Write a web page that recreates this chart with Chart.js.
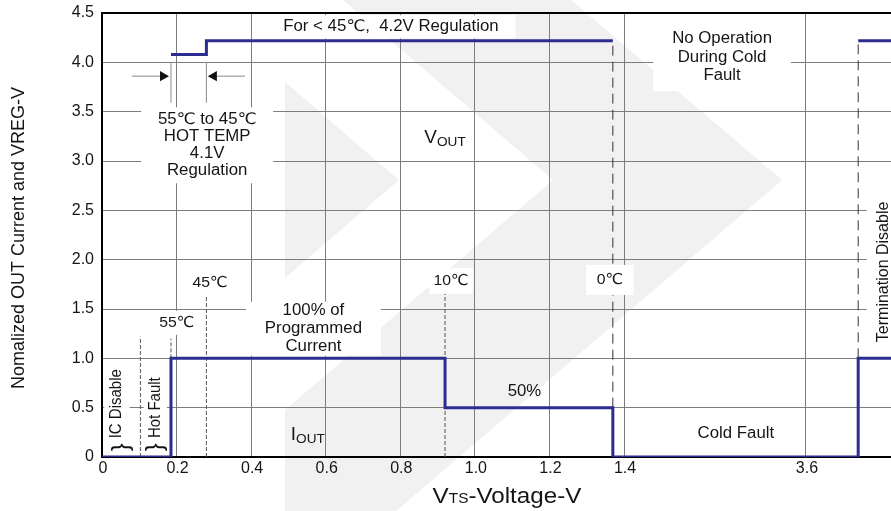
<!DOCTYPE html>
<html>
<head>
<meta charset="utf-8">
<script src="https://cdn.jsdelivr.net/npm/chart.js@4.4.1/dist/chart.umd.min.js"></script>
<style>
  html, body { margin: 0; padding: 0; background: #fff; }
  #wrap { width: 891px; height: 511px; }
</style>
</head>
<body>
<div id="wrap"><canvas id="chart" width="891" height="511"></canvas></div>
<script>
// ---- data ----
const yTickValues = [0, 0.5, 1.0, 1.5, 2.0, 2.5, 3.0, 3.5, 4.0, 4.5]
const yTickLabels = ['0', '0.5', '1.0', '1.5', '2.0', '2.5', '3.0', '3.5', '4.0', '4.5']
const xTickVolts = [0, 0.2, 0.4, 0.6, 0.8, 1.0, 1.2, 1.4, 3.6]
const xTickLabels = ['0', '0.2', '0.4', '0.6', '0.8', '1.0', '1.2', '1.4', '3.6']

// I_OUT step trace (corner points)
const ioutVolts = [0, 0.185, 0.185, 0.92, 0.92, 1.37, 1.37, 3.74, 3.74, 3.9]
const ioutLevel = [0, 0, 1.0, 1.0, 0.5, 0.5, 0, 0, 1.0, 1.0]

// V_OUT regulation trace (null = no operation during cold fault)
const voutVolts = [0.185, 0.28, 0.28, 1.37, 2.5, 3.74, 3.9]
const voutLevel = [4.08, 4.08, 4.22, 4.22, null, 4.22, 4.22]

// dashed threshold markers
const markerVolts = [0.103, 0.185, 0.28, 0.92, 1.37, 3.74]
const markerFrom = [0, 1.0, 0, 0, 0.5, 1.0]
const markerTo = [1.22, 1.2, 1.66, 1.66, 4.22, 4.22]
const markerLong = [false, false, false, false, true, true]

// "55C to 45C" width bracket
const bracketVolts = [0.185, 0.28]
const bracketFrom = 3.59
const bracketTo = 4.0
const arrowLevel = 3.86

// broken x axis: 1.4 .. 3.6 squeezed into a short gap
const BREAK_FROM = 1.4, BREAK_TO = 3.6, BREAK_WIDTH = 0.488, AXIS_MAX = 2.116
function toAxis(v) {
    if (v == null) return null
    if (v <= BREAK_FROM) return v
    if (v >= BREAK_TO) return v - BREAK_TO + BREAK_FROM + BREAK_WIDTH
    return BREAK_FROM + (v - BREAK_FROM) / (BREAK_TO - BREAK_FROM) * BREAK_WIDTH
}
const pts = (xs, ys) => xs.map((v, i) => ({x: toAxis(v), y: ys[i]}))

const FONT = '"Liberation Sans", Arial, "DejaVu Sans", sans-serif'
const NAVY = '#2c2c92'
const GRID = '#7d7d7d'
const TEXT = '#151515'
const STRETCH = 1.05   // the source picture is a bit wider than tall

// text annotations (a = position on axis, y = value)
const notes = [
    {a: 0.775, y: 4.36, lines: ['For < 45℃,  4.2V Regulation'], size: 16, padX: 16, padY: 2},
    {a: 1.663, y: 4.05, lines: ['No Operation', 'During Cold', 'Fault'], size: 16, lh: 18.5, padX: 18, padY: 6},
    {a: 0.282, y: 3.16, lines: ['55℃ to 45℃', 'HOT TEMP', '4.1V', 'Regulation'], size: 16, lh: 17, padX: 16, padY: 4},
    {a: 0.29, y: 1.765, lines: ['45℃'], size: 15, padX: 3, padY: 3},
    {a: 0.201, y: 1.36, lines: ['55℃'], size: 15, padX: 3, padY: 3},
    {a: 0.567, y: 1.30, lines: ['100% of', 'Programmed', 'Current'], size: 16, lh: 18, padX: 18, padY: 0},
    {a: 0.936, y: 1.785, lines: ['10℃'], size: 15, padX: 4, padY: 4},
    {a: 1.362, y: 1.795, lines: ['0℃'], size: 15, padX: 10, padY: 6},
    {a: 1.133, y: 0.66, lines: ['50%'], size: 16, padX: 0, padY: 0, noBox: true},
    {a: 1.70, y: 0.233, lines: ['Cold Fault'], size: 16, padX: 8, padY: 8},
    {a: 2.095, y: 1.876, lines: ['Termination Disable'], size: 16, padX: 4, padY: 6, rotate: true},
    {a: 0.04, y: 0.54, lines: ['IC Disable'], size: 15, padX: 6, padY: 3, rotate: true},
    {a: 0.143, y: 0.5, lines: ['Hot Fault'], size: 15, padX: 6, padY: 2, rotate: true}
]
const subNotes = [
    {a: 0.92, y: 3.245, main: 'V', sub: 'OUT'},
    {a: 0.552, y: 0.233, main: 'I', sub: 'OUT'}
]
const braces = [{a: 0.051, y: 0.10}, {a: 0.142, y: 0.10}]

function textBlock(ctx, n) {
    ctx.font = n.size + 'px ' + FONT
    const lh = n.lh || n.size * 1.2
    const w = Math.max(...n.lines.map(l => ctx.measureText(l).width))
    const h = lh * n.lines.length
    if (!n.noBox) {
        ctx.fillStyle = '#fff'
        ctx.fillRect(-w / 2 - n.padX, -h / 2 - n.padY, w + 2 * n.padX, h + 2 * n.padY)
    }
    ctx.fillStyle = TEXT
    ctx.textAlign = 'center'
    ctx.textBaseline = 'middle'
    n.lines.forEach((l, i) => ctx.fillText(l, 0, -h / 2 + lh * (i + 0.5)))
}

const watermark = {
    id: 'watermark',
    beforeDraw(chart) {
        const ctx = chart.ctx
        ctx.save()
        ctx.fillStyle = '#fff'
        ctx.fillRect(0, 0, chart.width, chart.height)
        ctx.fillStyle = '#f1f1f1'
        ctx.beginPath()
        ;[[343, 0], [571, 0], [782, 180], [396, 511], [285, 511], [285, 410], [553, 180]]
            .forEach((p, i) => i ? ctx.lineTo(p[0], p[1]) : ctx.moveTo(p[0], p[1]))
        ctx.closePath()
        ctx.fill()
        ctx.beginPath()
        ctx.moveTo(285, 82); ctx.lineTo(399, 180); ctx.lineTo(285, 278)
        ctx.closePath()
        ctx.fill()
        ctx.restore()
    }
}

const annotations = {
    id: 'annotations',
    afterDatasetsDraw(chart) {
        const ctx = chart.ctx
        const xs = chart.scales.x, ys = chart.scales.y
        notes.forEach(n => {
            ctx.save()
            ctx.translate(xs.getPixelForValue(n.a), ys.getPixelForValue(n.y))
            ctx.scale(STRETCH, 1)
            if (n.rotate) ctx.rotate(-Math.PI / 2)
            textBlock(ctx, n)
            ctx.restore()
        })
        subNotes.forEach(n => {
            ctx.save()
            ctx.translate(xs.getPixelForValue(n.a), ys.getPixelForValue(n.y))
            ctx.scale(STRETCH, 1)
            ctx.font = '18px ' + FONT
            const wm = ctx.measureText(n.main).width
            ctx.font = '13px ' + FONT
            const ws = ctx.measureText(n.sub).width
            const x0 = -(wm + ws) / 2
            ctx.fillStyle = TEXT
            ctx.textAlign = 'left'
            ctx.textBaseline = 'alphabetic'
            ctx.font = '18px ' + FONT
            ctx.fillText(n.main, x0, 6)
            ctx.font = '13px ' + FONT
            ctx.fillText(n.sub, x0 + wm, 9)
            ctx.restore()
        })
        braces.forEach(b => {
            ctx.save()
            ctx.translate(xs.getPixelForValue(b.a), ys.getPixelForValue(b.y))
            ctx.rotate(-Math.PI / 2)
            ctx.font = '24px ' + FONT
            ctx.fillStyle = TEXT
            ctx.textAlign = 'center'
            ctx.textBaseline = 'middle'
            ctx.fillText('}', 0, 0)
            ctx.restore()
        })
    },
    afterDraw(chart) {
        const ctx = chart.ctx
        ctx.save()
        ctx.fillStyle = TEXT
        // y title
        ctx.translate(19, 238)
        ctx.scale(STRETCH, 1)
        ctx.rotate(-Math.PI / 2)
        ctx.font = '18px ' + FONT
        ctx.textAlign = 'center'
        ctx.textBaseline = 'middle'
        ctx.fillText('Nomalized OUT Current and VREG-V', 0, 0)
        ctx.restore()
        // x title with subscript
        ctx.save()
        ctx.fillStyle = TEXT
        ctx.textAlign = 'left'
        ctx.textBaseline = 'alphabetic'
        ctx.translate(507, 503)
        ctx.scale(1.1, 1)
        const big = '22px ' + FONT, small = '14px ' + FONT
        ctx.font = big
        const w1 = ctx.measureText('V').width, w3 = ctx.measureText('-Voltage-V').width
        ctx.font = small
        const w2 = ctx.measureText('TS').width
        let x = -(w1 + w2 + w3) / 2
        ctx.font = big; ctx.fillText('V', x, 0); x += w1
        ctx.font = small; ctx.fillText('TS', x, 0); x += w2
        ctx.font = big; ctx.fillText('-Voltage-V', x, 0)
        ctx.restore()
    }
}

const datasets = [
    {data: pts(ioutVolts, ioutLevel), borderColor: NAVY, borderWidth: 3},
    {data: pts(voutVolts, voutLevel), borderColor: NAVY, borderWidth: 3, spanGaps: false},
    {data: [{x: 0.08, y: arrowLevel}, {x: 0.1636, y: arrowLevel}], borderColor: '#8a8a8a', borderWidth: 1,
        pointRadius: [0, 6], pointStyle: 'triangle', pointRotation: 90, pointBackgroundColor: '#111', pointBorderColor: '#111', pointBorderWidth: 0},
    {data: [{x: 0.3835, y: arrowLevel}, {x: 0.30, y: arrowLevel}], borderColor: '#8a8a8a', borderWidth: 1,
        pointRadius: [0, 6], pointStyle: 'triangle', pointRotation: -90, pointBackgroundColor: '#111', pointBorderColor: '#111', pointBorderWidth: 0}
]
bracketVolts.forEach(v => datasets.push({
    data: [{x: toAxis(v), y: bracketFrom}, {x: toAxis(v), y: bracketTo}], borderColor: '#8a8a8a', borderWidth: 1
}))
markerVolts.forEach((v, i) => datasets.push({
    data: [{x: toAxis(v), y: markerFrom[i]}, {x: toAxis(v), y: markerTo[i]}],
    borderColor: markerLong[i] ? '#333' : '#555',
    borderWidth: 1,
    borderDash: markerLong[i] ? [10, 6] : [4, 2]
}))

const tickFont = {family: FONT, size: 16}

new Chart(document.getElementById('chart'), {
    type: 'line',
    data: {datasets},
    options: {
        responsive: false,
        animation: false,
        layout: {autoPadding: false, padding: {top: 13, right: 0, bottom: 0, left: 0}},
        elements: {
            line: {tension: 0, fill: false},
            point: {radius: 0, hoverRadius: 0}
        },
        plugins: {legend: {display: false}, tooltip: {enabled: false}},
        scales: {
            x: {
                type: 'linear', min: 0, max: AXIS_MAX,
                afterBuildTicks: s => { s.ticks = xTickVolts.map(v => ({value: toAxis(v)})) },
                afterFit: s => { s.height = 54; s.paddingLeft = 0; s.paddingRight = 0 },
                ticks: {
                    callback: (v, i) => xTickLabels[i], autoSkip: false, maxRotation: 0,
                    font: tickFont, color: TEXT, padding: 2, labelOffset: 1
                },
                grid: {color: GRID, lineWidth: 1, drawTicks: false},
                border: {color: '#000', width: 2}
            },
            y: {
                min: 0, max: 4.5,
                afterBuildTicks: s => { s.ticks = yTickValues.map(v => ({value: v})) },
                afterFit: s => { s.width = 102; s.paddingTop = 0; s.paddingBottom = 0 },
                ticks: {callback: (v, i) => yTickLabels[i], font: tickFont, color: TEXT, padding: 8},
                grid: {
                    color: c => c.tick && c.tick.value === 4.5 ? '#000' : GRID,
                    lineWidth: c => c.tick && c.tick.value === 4.5 ? 2 : 1,
                    drawTicks: false
                },
                border: {color: '#000', width: 2}
            }
        }
    },
    plugins: [watermark, annotations]
})
</script>
</body>
</html>
